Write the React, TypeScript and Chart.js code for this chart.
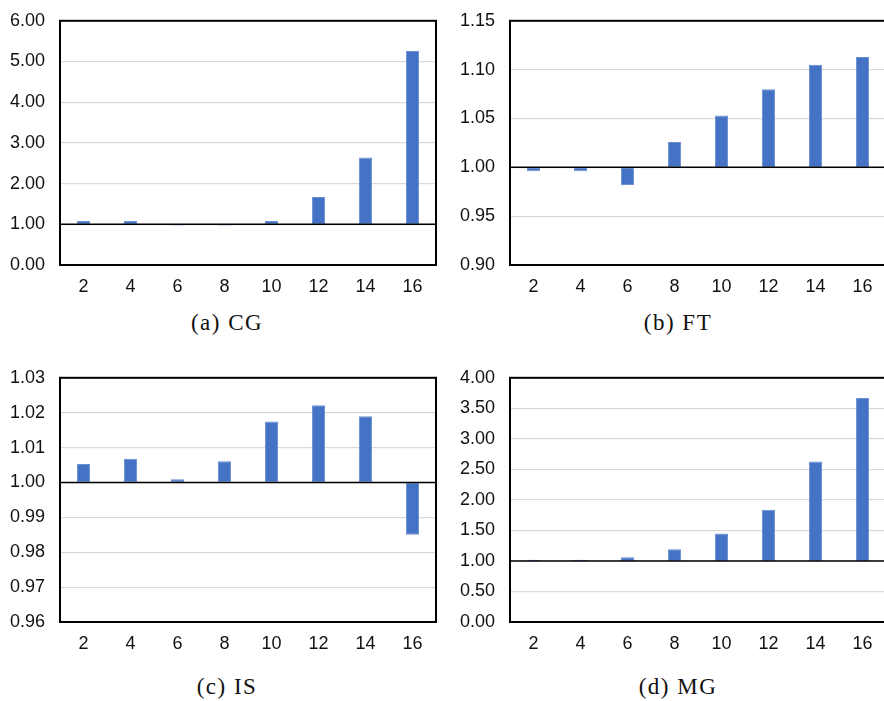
import React, { useEffect, useRef } from "react";
import { Chart, registerables } from "chart.js";

Chart.register(...registerables);

const categories = ["2", "4", "6", "8", "10", "12", "14", "16"];
const cgValues = [1.08, 1.08, 0.97, 0.97, 1.08, 1.67, 2.64, 5.26];
const ftValues = [0.996, 0.996, 0.982, 1.026, 1.053, 1.08, 1.105, 1.113];
const isValues = [1.0053, 1.0068, 1.0009, 1.0061, 1.0175, 1.0221, 1.019, 0.985];
const mgValues = [1.02, 1.02, 1.06, 1.19, 1.45, 1.84, 2.63, 3.67];
const baseline = 1.0;

const cgTicks = { min: 0, max: 6, step: 1 };
const ftTicks = { min: 0.9, max: 1.15, step: 0.05 };
const isTicks = { min: 0.96, max: 1.03, step: 0.01 };
const mgTicks = { min: 0, max: 4, step: 0.5 };

const captions = ["(a) CG", "(b) FT", "(c) IS", "(d) MG"];

const framePlugin = {
  id: "framePlugin",
  afterDatasetsDraw(chart: any) {
    const { ctx, chartArea } = chart;
    const y = chart.scales.y.getPixelForValue(baseline);
    ctx.save();
    ctx.strokeStyle = "#000";
    ctx.lineWidth = 1.6;
    ctx.beginPath();
    ctx.moveTo(chartArea.left, y);
    ctx.lineTo(chartArea.right, y);
    ctx.stroke();
    ctx.lineWidth = 2;
    ctx.strokeRect(chartArea.left, chartArea.top, chartArea.right - chartArea.left, chartArea.bottom - chartArea.top);
    ctx.restore();
  },
};

type PanelProps = {
  values: number[];
  ticks: { min: number; max: number; step: number };
  left: number;
  top: number;
  width: number;
  axisWidth: number;
  padRight: number;
};

const CANVAS_H = 305;

function Panel({ values, ticks, left, top, width, axisWidth, padRight }: PanelProps) {
  const ref = useRef<HTMLCanvasElement | null>(null);
  useEffect(() => {
    if (!ref.current) return;
    const font = { family: "'Liberation Sans', Arial, sans-serif", size: 18 };
    const chart = new Chart(ref.current, {
      type: "bar",
      data: {
        labels: categories,
        datasets: [
          {
            data: values.map((v) => [baseline, v]) as any,
            backgroundColor: "#4472C4",
            borderColor: "#6a8fd3",
            borderWidth: 1,
            borderSkipped: false,
            categoryPercentage: 1,
            barPercentage: 0.28,
          },
        ],
      },
      options: {
        animation: false,
        responsive: false,
        maintainAspectRatio: false,
        layout: { padding: { top: 4, right: padRight, left: 0, bottom: 0 } },
        plugins: { legend: { display: false }, tooltip: { enabled: false } },
        scales: {
          x: {
            grid: { display: false, drawTicks: false },
            border: { display: false },
            ticks: { font, color: "#111", padding: 11, maxRotation: 0 },
            afterFit: (s: any) => {
              s.height = 35;
            },
          },
          y: {
            min: ticks.min,
            max: ticks.max,
            grid: { color: "#d9d9d9", lineWidth: 1.2, drawTicks: false },
            border: { display: false },
            ticks: {
              stepSize: ticks.step,
              font,
              color: "#111",
              padding: 15,
              callback: (v: any) => Number(v).toFixed(2),
            },
            afterFit: (s: any) => {
              s.width = axisWidth;
            },
          },
        },
      },
      plugins: [framePlugin],
    });
    return () => chart.destroy();
  }, []);
  return (
    <canvas
      ref={ref}
      width={width}
      height={CANVAS_H}
      style={{ position: "absolute", left, top, width, height: CANVAS_H }}
    />
  );
}

export default function App() {
  const capStyle = (left: number, top: number): React.CSSProperties => ({
    position: "absolute",
    left,
    top,
    width: 442,
    textAlign: "center",
    fontFamily: "'Liberation Serif', 'Times New Roman', serif",
    fontSize: 23,
    lineHeight: "24px",
    letterSpacing: 1.5,
    color: "#111",
  });
  return (
    <div style={{ position: "absolute", left: 0, top: 0, width: 884, height: 701, overflow: "hidden", background: "#fff" }}>
      <Panel values={cgValues} ticks={cgTicks} left={0} top={-5} width={442} axisWidth={60} padRight={6} />
      <Panel values={ftValues} ticks={ftTicks} left={442} top={-5} width={444} axisWidth={68} padRight={0} />
      <Panel values={isValues} ticks={isTicks} left={0} top={352} width={442} axisWidth={60} padRight={6} />
      <Panel values={mgValues} ticks={mgTicks} left={442} top={352} width={444} axisWidth={68} padRight={0} />
      <div style={capStyle(6, 311)}>{captions[0]}</div>
      <div style={capStyle(457, 311)}>{captions[1]}</div>
      <div style={capStyle(6, 675)}>{captions[2]}</div>
      <div style={capStyle(457, 675)}>{captions[3]}</div>
    </div>
  );
}
